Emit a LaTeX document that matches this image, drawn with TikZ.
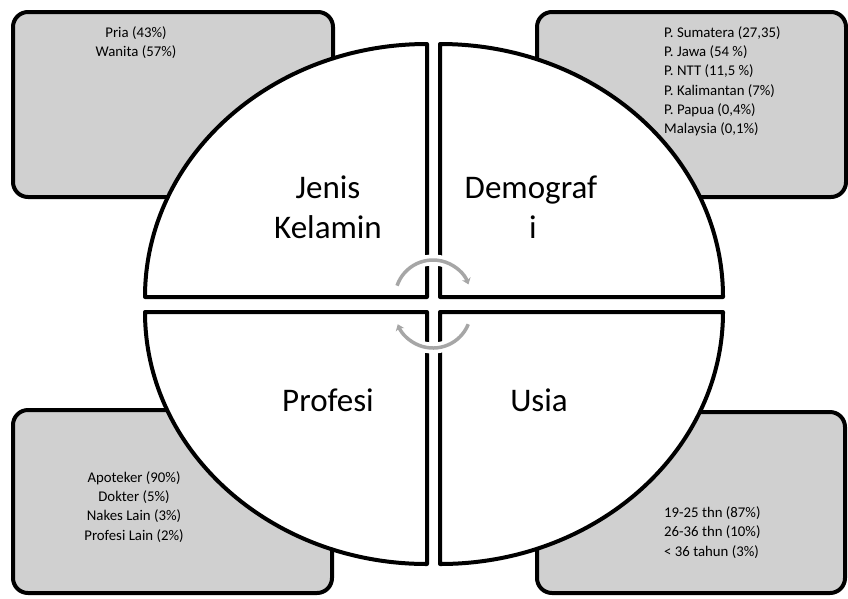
\documentclass[tikz,border=0pt]{standalone}
\usepackage{fontspec}
\setmainfont{Carlito}
\usetikzlibrary{arrows.meta}
\definecolor{boxgray}{RGB}{208,208,208}
\definecolor{arrowgray}{RGB}{166,166,166}
\begin{document}
\begin{tikzpicture}[x=1pt,y=-1pt,
  box/.style={draw=black,line width=4pt,fill=boxgray,rounded corners=15pt},
  quad/.style={draw=black,line width=4pt,fill=white,line join=round},
  small/.style={font=\fontsize{14.8}{19}\selectfont,inner sep=0pt,anchor=base},
  smallw/.style={small,anchor=base west},
  big/.style={font=\fontsize{33}{40}\selectfont,inner sep=0pt,anchor=base},
  cyc/.style={line width=3.5pt,draw=arrowgray},
  halo/.style={line width=11pt,draw=white}]
\useasboundingbox (0,0) rectangle (848,598);
% corner boxes
\draw[box] (13,12) rectangle (333,197);
\draw[box] (537,12) rectangle (846,197);
\draw[box] (13,410) rectangle (332,593);
\draw[box] (537,412) rectangle (845,593);
% quadrants
\draw[quad] (427,297) -- (145,297) arc[start angle=180,end angle=270,x radius=282,y radius=253] -- cycle;
\draw[quad] (440,297) -- (440,44) arc[start angle=270,end angle=360,x radius=283,y radius=253] -- cycle;
\draw[quad] (427,312) -- (145,312) arc[start angle=180,end angle=90,x radius=282,y radius=252] -- cycle;
\draw[quad] (440,312) -- (723,312) arc[start angle=0,end angle=90,x radius=283,y radius=252] -- cycle;
% cycle arrows
\coordinate (ctop) at (433,298);
\coordinate (cbot) at (433,310);
\draw[halo] ([shift={(199:38)}]ctop) arc[start angle=199,end angle=339,radius=38];
\draw[halo] ([shift={(22:38)}]cbot) arc[start angle=22,end angle=158,radius=38];
\draw[cyc,-{Stealth[length=6pt,width=9pt]}] ([shift={(199:38)}]ctop) arc[start angle=199,end angle=339,radius=38];
\draw[cyc,-{Stealth[length=6pt,width=9pt]}] ([shift={(22:38)}]cbot) arc[start angle=22,end angle=158,radius=38];
% quadrant labels
\node[big] (jk1) at (328,198) {Jenis};
\node[big] (jk2) at (328,238) {Kelamin};
\node[big] (dm1) at (531,198) {Demograf};
\node[big] (dm2) at (533,238) {i};
\node[big] (pr) at (328,411) {Profesi};
\node[big] (us) at (539,411) {Usia};
% box texts
\node[small] (tl1) at (136,37) {Pria (43\%)};
\node[small] (tl2) at (136,56.5) {Wanita (57\%)};
\node[smallw] (tr1) at (664,37) {P. Sumatera (27,35)};
\node[smallw] (tr2) at (664,56.3) {P. Jawa (54 \%)};
\node[smallw] (tr3) at (664,75.6) {P. NTT (11,5 \%)};
\node[smallw] (tr4) at (664,95) {P. Kalimantan (7\%)};
\node[smallw] (tr5) at (664,114.3) {P. Papua (0,4\%)};
\node[smallw] (tr6) at (664,133.6) {Malaysia (0,1\%)};
\node[small] (bl1) at (134,482) {Apoteker (90\%)};
\node[small] (bl2) at (134,501.3) {Dokter (5\%)};
\node[small] (bl3) at (134,520.6) {Nakes Lain (3\%)};
\node[small] (bl4) at (134,540) {Profesi Lain (2\%)};
\node[smallw] (br1) at (664,517) {19-25 thn (87\%)};
\node[smallw] (br2) at (664,536.5) {26-36 thn (10\%)};
\node[smallw] (br3) at (664,556) {< 36 tahun (3\%)};
\end{tikzpicture}
\end{document}
